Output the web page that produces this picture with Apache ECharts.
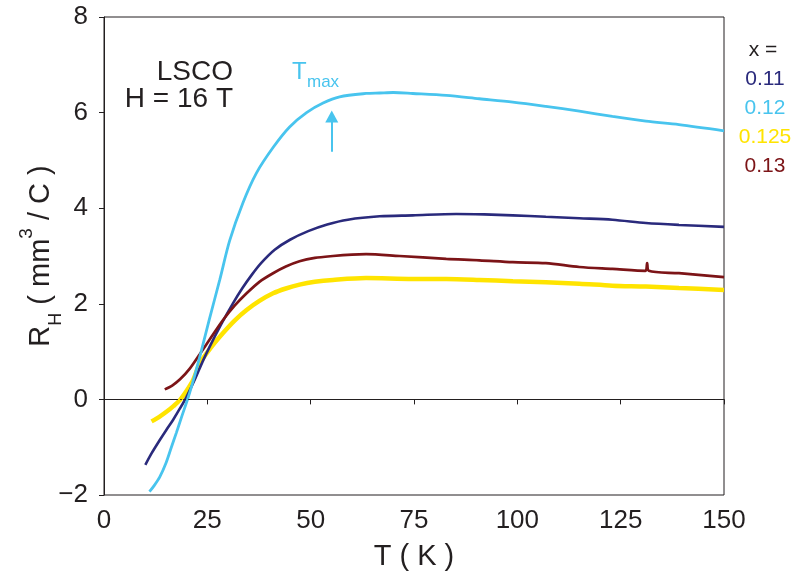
<!DOCTYPE html>
<html>
<head>
<meta charset="utf-8">
<style>
html,body{margin:0;padding:0;background:#fff;}
#chart{width:791px;height:575px;}
</style>
<script src="https://cdn.jsdelivr.net/npm/echarts@6/dist/echarts.min.js"></script>
</head>
<body>
<div id="chart"></div>
<script>
// Temperature (K) and Hall coefficient R_H (mm^3/C)
var T_011 = [10, 11.5, 13.5, 15, 16.7, 18.3, 20, 22, 23.8, 25.6, 28.4, 31.2, 33.5, 35.7, 38, 41.3, 45, 49.4, 54, 59, 66.7, 74.7, 85.2, 92, 98.9, 106.9, 115, 123, 131.1, 139.1, 150];
var R_011 = [-1.37, -1.13, -0.85, -0.65, -0.43, -0.2, 0.06, 0.42, 0.78, 1.11, 1.58, 2.01, 2.33, 2.6, 2.85, 3.13, 3.34, 3.52, 3.66, 3.76, 3.83, 3.85, 3.88, 3.87, 3.85, 3.82, 3.79, 3.76, 3.69, 3.65, 3.61];

var T_012 = [11, 12, 13.5, 15, 16.3, 17.5, 18.8, 20.4, 22, 23.5, 25.5, 28, 30.4, 33.6, 36.9, 40.9, 44.9, 49, 53, 57, 63.4, 66.7, 70, 74.7, 82.8, 90.8, 98.9, 106.9, 115, 123, 131.1, 139.1, 150];
var R_012 = [-1.93, -1.82, -1.62, -1.33, -1.0, -0.7, -0.36, 0.05, 0.52, 1.0, 1.68, 2.5, 3.32, 4.11, 4.74, 5.27, 5.70, 6.0, 6.2, 6.33, 6.40, 6.41, 6.42, 6.40, 6.36, 6.29, 6.22, 6.13, 6.03, 5.92, 5.82, 5.75, 5.62];

var T_0125 = [11.5, 13.3, 15.1, 16.8, 18.4, 20, 21.6, 23.2, 26, 28.8, 31.6, 34.5, 37.6, 40.9, 44, 47.3, 51, 55.4, 63.4, 74.7, 82.8, 90.8, 98.9, 106.9, 115, 123, 131.1, 139.1, 150];
var R_0125 = [-0.46, -0.37, -0.26, -0.14, -0.01, 0.18, 0.41, 0.76, 1.1, 1.39, 1.65, 1.87, 2.06, 2.22, 2.32, 2.40, 2.46, 2.50, 2.54, 2.52, 2.52, 2.5, 2.47, 2.45, 2.42, 2.38, 2.36, 2.33, 2.29];

var T_013 = [14.7, 16.5, 18.4, 20.8, 23.2, 26, 28.8, 31.6, 34.5, 37.6, 40.9, 44, 47.3, 51, 55.4, 60, 63.4, 71.5, 82.8, 90.8, 98.9, 106.9, 115, 123, 131, 131.4, 131.8, 139.1, 150];
var R_013 = [0.21, 0.29, 0.42, 0.65, 0.95, 1.31, 1.66, 1.96, 2.22, 2.46, 2.64, 2.78, 2.89, 2.96, 3.0, 3.03, 3.04, 3.0, 2.94, 2.91, 2.87, 2.85, 2.77, 2.73, 2.69, 2.85, 2.69, 2.64, 2.56];

var legendLabels = ['0.11', '0.12', '0.125', '0.13'];
var colors = ['#2a2a7c', '#48c4ee', '#ffe400', '#7c1417'];
var xTicks = {min: 0, max: 150, interval: 25};
var yTicks = {min: -2, max: 8, interval: 2};
var arrowT = 55.1, arrowFrom = 5.18, arrowTo = 5.92;

function zip(a, b) { return a.map(function (v, i) { return [v, b[i]]; }); }

var FONT = '"Liberation Sans", Arial, sans-serif';
var INK = '#231f20';

var chart = echarts.init(document.getElementById('chart'), null, {renderer: 'canvas'});

var seriesData = [zip(T_011, R_011), zip(T_012, R_012), zip(T_0125, R_0125), zip(T_013, R_013)];
var widths = [2.6, 2.8, 4.5, 2.7];
var order = [2, 0, 3, 1];

var series = order.map(function (k) {
  var s = {
    type: 'line',
    name: legendLabels[k],
    data: seriesData[k],
    showSymbol: false,
    smooth: 0.3,
    lineStyle: {color: colors[k], width: widths[k]},
    itemStyle: {color: colors[k]},
    z: 3,
    silent: true
  };
  if (k === 1) {
    s.markLine = {
      silent: true,
      symbol: ['none', 'triangle'],
      symbolSize: [13, 12],
      label: {show: false},
      lineStyle: {color: colors[1], width: 2, type: 'solid'},
      data: [[{coord: [arrowT, arrowFrom]}, {coord: [arrowT, arrowTo]}]]
    };
  }
  if (k === 2) {
    s.markLine = {
      silent: true,
      symbol: ['none', 'none'],
      label: {show: false},
      lineStyle: {color: INK, width: 0.8, type: [2, 2]},
      data: [{yAxis: 0}]
    };
  }
  return s;
});

var graphics = [
  {type: 'text', x: 233, y: 72, style: {text: 'LSCO', font: '28px ' + FONT, fill: INK, textAlign: 'right', textVerticalAlign: 'middle'}},
  {type: 'text', x: 233, y: 99, style: {text: 'H = 16 T', font: '28px ' + FONT, fill: INK, textAlign: 'right', textVerticalAlign: 'middle'}},
  {type: 'text', x: 292, y: 72, style: {text: 'T', font: '24px ' + FONT, fill: colors[1], textAlign: 'left', textVerticalAlign: 'middle'}},
  {type: 'text', x: 307, y: 82, style: {text: 'max', font: '17px ' + FONT, fill: colors[1], textAlign: 'left', textVerticalAlign: 'middle'}},
  {type: 'text', x: 763, y: 50, style: {text: 'x =', font: '21px ' + FONT, fill: INK, textAlign: 'center', textVerticalAlign: 'middle'}}
];
legendLabels.forEach(function (lab, i) {
  graphics.push({type: 'text', x: 765, y: 79 + i * 29, style: {text: lab, font: '21px ' + FONT, fill: colors[i], textAlign: 'center', textVerticalAlign: 'middle'}});
});

chart.setOption({
  animation: false,
  backgroundColor: '#fff',
  grid: {left: 104, right: 67, top: 17, bottom: 80, show: true, borderColor: INK, borderWidth: 1, backgroundColor: 'transparent', containLabel: false, outerBoundsMode: 'none'},
  xAxis: {
    type: 'value', min: xTicks.min, max: xTicks.max, interval: xTicks.interval,
    name: 'T ( K )', nameLocation: 'middle', nameGap: 47, nameMoveOverlap: false,
    nameTextStyle: {fontFamily: FONT, fontSize: 29, color: INK, lineHeight: 29},
    axisLine: {show: true, lineStyle: {color: INK, width: 1}},
    axisTick: {show: true, inside: false, length: 5, lineStyle: {color: INK, width: 1}},
    axisLabel: {fontFamily: FONT, fontSize: 26, color: INK, margin: 13},
    splitLine: {show: false}
  },
  yAxis: {
    type: 'value', min: yTicks.min, max: yTicks.max, interval: yTicks.interval,
    name: '{r|R}{sub|H}{t| ( mm}{sup|3}{t| / C )}', nameLocation: 'middle', nameGap: 39, nameRotate: 90, nameMoveOverlap: false,
    nameTextStyle: {
      fontFamily: FONT, fontSize: 29, color: INK,
      rich: {
        r: {fontFamily: FONT, fontSize: 29, color: INK, lineHeight: 48},
        t: {fontFamily: FONT, fontSize: 29, color: INK, lineHeight: 48},
        sub: {fontFamily: FONT, fontSize: 18, color: INK, lineHeight: 30, verticalAlign: 'bottom'},
        sup: {fontFamily: FONT, fontSize: 19, color: INK, lineHeight: 14, verticalAlign: 'top'}
      }
    },
    axisLine: {show: true, lineStyle: {color: INK, width: 1}},
    axisTick: {show: true, inside: false, length: 5, lineStyle: {color: INK, width: 1}},
    axisLabel: {fontFamily: FONT, fontSize: 26, color: INK, margin: 16,
      formatter: function (v) { return String(v).replace('-', '\u2212'); }},
    splitLine: {show: false}
  },
  series: series,
  graphic: graphics
});
</script>
</body>
</html>
